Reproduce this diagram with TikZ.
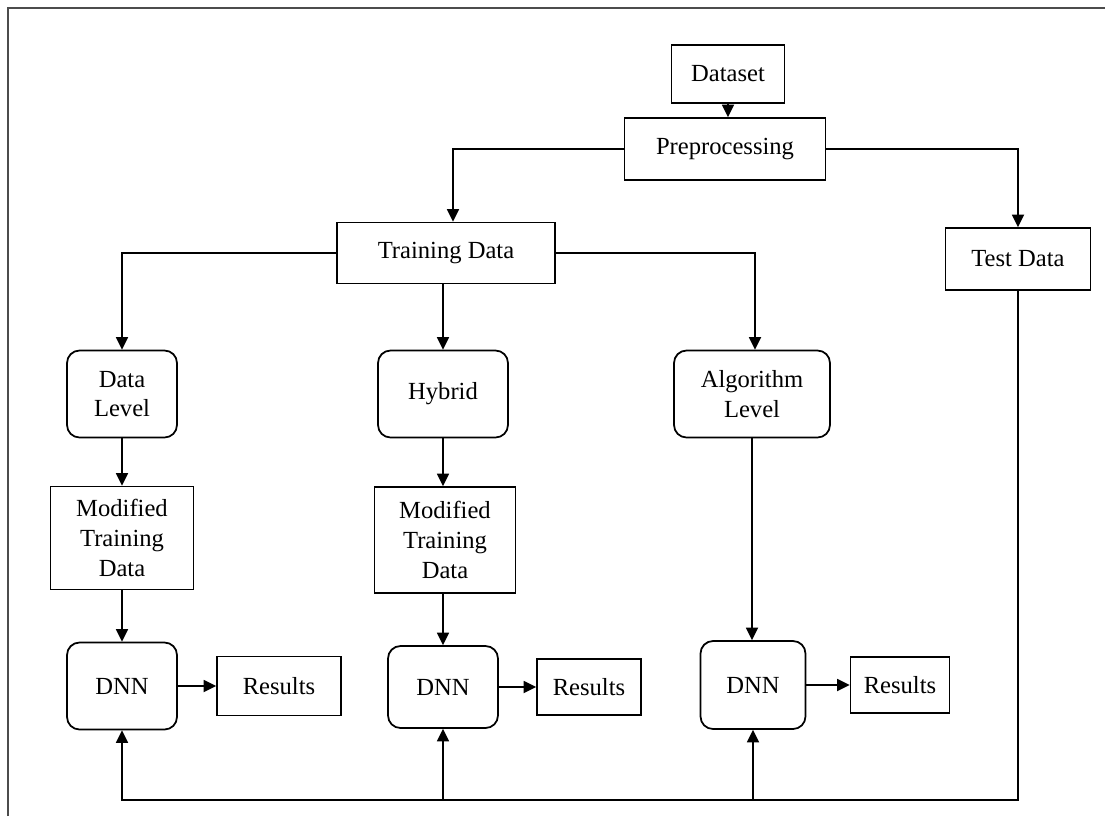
\documentclass[tikz,border=0pt]{standalone}
\usepackage{fontspec}
\setmainfont{Liberation Serif}
\usetikzlibrary{arrows.meta}

\tikzset{
    box/.style={draw, line width=1pt, align=center, inner sep=2pt, font=\fontsize{14}{17}\selectfont},
    rbox/.style={box, rounded corners=0.25cm},
    arr/.style={line width=1pt, -{Triangle[length=0.25cm, width=0.24cm]}},
    link/.style={line width=1pt}
}

\begin{document}
\begin{tikzpicture}[x=0.02cm, y=-0.02cm]
        \useasboundingbox (0,0) rectangle (1105,816);
        % frame
        \draw[gray!60!black, line width=0.8pt] (8,816) -- (8,8) -- (1105,8);

        % top part
        \node[box, minimum width=2.26cm, minimum height=1.16cm] (dataset) at (728,74) {Dataset};
        \node[box, minimum width=4.02cm, minimum height=1.24cm] (preproc) at (725,149) {Preprocessing};
        \node[box, minimum width=4.36cm, minimum height=1.22cm] (train) at (446,253) {Training Data};
        \node[box, minimum width=2.9cm, minimum height=1.24cm] (test) at (1018,259) {Test Data};

        % methods
        \node[rbox, minimum width=2.2cm, minimum height=1.74cm] (datalvl) at (122,394) {Data\\Level};
        \node[rbox, minimum width=2.6cm, minimum height=1.74cm] (hybrid) at (443,394) {Hybrid};
        \node[rbox, minimum width=3.12cm, minimum height=1.74cm] (algolvl) at (752,394) {Algorithm\\Level};

        % modified training data
        \node[box, minimum width=2.86cm, minimum height=2.06cm] (mod1) at (122,538) {Modified\\Training\\Data};
        \node[box, minimum width=2.82cm, minimum height=2.12cm] (mod2) at (445,540) {Modified\\Training\\Data};

        % DNNs and results
        \node[rbox, minimum width=2.2cm, minimum height=1.74cm] (dnn1) at (122,686) {DNN};
        \node[rbox, minimum width=2.2cm, minimum height=1.64cm] (dnn2) at (443,687) {DNN};
        \node[rbox, minimum width=2.1cm, minimum height=1.76cm] (dnn3) at (753,685) {DNN};
        \node[box, minimum width=2.48cm, minimum height=1.18cm] (res1) at (279,686) {Results};
        \node[box, minimum width=2.08cm, minimum height=1.12cm] (res2) at (589,687) {Results};
        \node[box, minimum width=1.98cm, minimum height=1.12cm] (res3) at (900,685) {Results};

        \coordinate (bottom) at (0,800);

        % arrows
        \draw[arr] (dataset.south) -- (dataset.south |- preproc.north);
        \draw[arr] (preproc.west) -| ([xshift=0.14cm]train.north);
        \draw[arr] (preproc.east) -| (test.north);
        \draw[arr] (train.west) -| (datalvl.north);
        \draw[arr] (hybrid.north |- train.south) -- (hybrid.north);
        \draw[arr] (train.east) -| ([xshift=0.06cm]algolvl.north);
        \draw[arr] (datalvl) -- (mod1);
        \draw[arr] (hybrid.south) -- (hybrid.south |- mod2.north);
        \draw[arr] (mod1) -- (dnn1);
        \draw[arr] (mod2.south -| dnn2.north) -- (dnn2.north);
        \draw[arr] (algolvl.south) -- (algolvl.south |- dnn3.north);
        \draw[arr] (dnn1) -- (res1);
        \draw[arr] (dnn2) -- (res2);
        \draw[arr] (dnn3) -- (res3);

        % test data back to the DNNs
        \draw[arr] (test.south) |- (bottom -| dnn3) -- (dnn3.south);
        \draw[arr] (bottom -| dnn3) -| (dnn2.south);
        \draw[arr] (bottom -| dnn2) -| (dnn1.south);
\end{tikzpicture}
\end{document}
